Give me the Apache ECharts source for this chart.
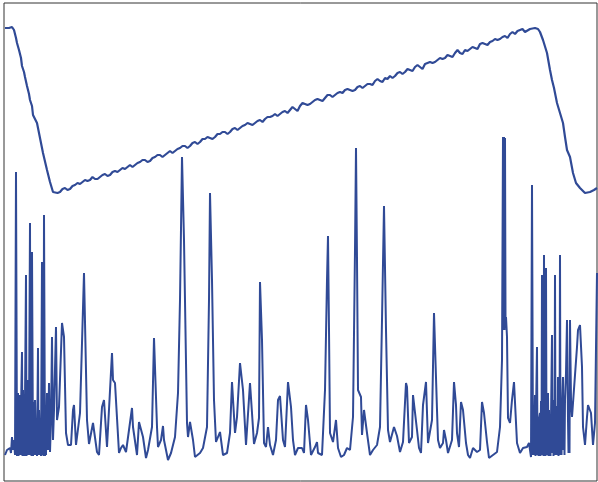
<!DOCTYPE html>
<html>
<head>
<meta charset="utf-8">
<script src="https://cdn.jsdelivr.net/npm/echarts@6/dist/echarts.min.js"></script>
<style>html,body{margin:0;padding:0;background:#fff;}#c{width:598px;height:482px;}</style>
</head>
<body>
<div id="c"></div>
<script>
// Upper sawtooth signal: [position, level]
const rampX = [5,7,9,11,12,13,14,16,17,18,19,20,21,22,23,24,25,26,27,28,29,30,31,32,33,34,35,37,40,43,47,50,53,55,
  57.5,60,62.5,65,67.5,70,72.5,75,77.5,80,82.5,85,87.5,90,92.5,95,97.5,100,102.5,105,107.5,110,112.5,115,117.5,120,122.5,125,127.5,130,132.5,135,137.5,140,142.5,145,147.5,150,152.5,155,157.5,160,162.5,165,167.5,170,172.5,175,177.5,180,182.5,185,187.5,190,192.5,195,197.5,200,202.5,205,207.5,210,212.5,215,217.5,220,222.5,225,227.5,230,232.5,235,237.5,240,242.5,245,247.5,250,252.5,255,257.5,260,262.5,265,267.5,270,272.5,275,277.5,280,282.5,285,287.5,290,292.5,295,297.5,300,302.5,305,307.5,310,312.5,315,317.5,320,322.5,325,327.5,330,332.5,335,337.5,340,342.5,345,347.5,350,352.5,355,357.5,360,362.5,365,367.5,370,372.5,375,377.5,380,382.5,385,387.5,390,392.5,395,397.5,400,402.5,405,407.5,410,412.5,415,417.5,420,422.5,425,427.5,430,432.5,435,437.5,440,442.5,445,447.5,450,452.5,455,457.5,460,462.5,465,467.5,470,472.5,475,477.5,480,482.5,485,487.5,490,492.5,495,497.5,500,502.5,505,507.5,510,512.5,515,517.5,520,522.5,525,
  527,530,532,535,538,540,543,547,550,552,554,557,560,563,565,567,570,573,576,580,585,590,594,597];
const rampY = [453,452,453,452,454,454,451,443,438,437,431,429,423,415,414,409,404,403,395,393,387,381,380,375,366,368,364,358,343,328,311,299,289,291,
  288,289,292,293,291,292,295,296,298,297,299,301,300,301,304,302,302,304,306,307,305,306,309,310,309,311,313,312,314,316,314,316,318,319,321,321,319,320,323,324,326,326,324,326,328,330,328,330,332,333,335,335,333,335,338,339,337,339,342,342,344,343,342,344,347,347,349,349,347,349,352,353,351,353,355,356,358,357,356,358,360,361,359,362,364,364,365,367,365,367,369,370,368,371,374,372,370,375,378,377,376,377,379,381,382,381,380,383,386,386,384,386,388,389,388,391,392,391,390,391,394,395,393,395,397,397,396,400,402,400,399,403,402,405,403,405,408,409,407,409,412,411,410,414,416,414,412,417,418,419,418,419,421,423,422,423,426,425,424,428,431,428,427,431,430,432,434,433,432,437,438,437,436,439,440,442,441,442,444,445,443,447,449,447,450,451,452,449,450,452,454,453,
  452,449,441,428,411,401,393,378,368,358,344,331,324,308,298,293,288,289,291,293,294,296,297,298];

// Lower spiky signal: [position, level]
const spikeX = [5,7,8,10,11,12,13,14,15,16,17,17.5,18,18.5,19,20,20.5,21,22,22.5,23,23.5,24,24.5,25,26,26.5,27,27.5,28,28.5,29,30,30.5,31,31.5,32,33,33.5,34,35,36,36.5,37,38,38.5,39,40,40.5,41,42,42.5,43,43.5,44,45,45.5,46,47,48,49,50,51,52,53,54,56,57,59,62,64,66,68,71,73,74,76,78,80,84,87,89,93,97,99,102,104,107,112,113,115,119,121,123,126,132,133,137,139,143,146,148,152,154,157,158,161,163,164,167,168,171,173,175,178,180,182,184,187,188,190,193,195,197,200,203,207,209,210,212,214,216,218,220,222,223,227,230,232,235,237,240,243,246,247,250,252,254,257,259,260,262,264,266,268,270,273,276,278,280,283,285,288,291,293,295,297,298,302,304,306,308,311,313,315,317,318,322,325,327,328,329,330,333,336,338,341,344,347,350,353,355,356,357,358,361,362,364,367,370,373,377,380,382,384,386,388,390,394,397,400,403,406,407,409,412,413,417,419,421,423,426,428,430,432,434,437,438,440,443,444,446,448,450,452,454,456,457,459,461,463,466,468,470,473,475,477,480,482,484,487,489,493,495,497,
  500,502,503,503.5,504,504.5,505,505.5,506,507,508,510,512,514,517,520,523,527,529,531,532,533,533.5,534,535,535.5,536,537,537.5,538,538.5,539,540,540.5,541,541.5,542,542.5,543,543.5,544,544.5,545,545.5,546,546.5,547,547.5,548,548.5,549,549.5,550,550.5,551,552,552.5,553,553.5,554,554.5,555,555.5,556,556.5,557,557.5,558,558.5,559,559.5,560,560.5,561,561.5,562,563,563.5,564,564.5,565,566,567,568,568.5,569,569.5,570,571,572,574,577,578,580,582,583,585,587,588,591,593,595,597];
const spikeY = [26,31,29,33,28,44,31,41,26,309,25,71,88,25,61,86,26,71,129,25,91,26,61,25,81,206,25,71,26,101,26,61,258,26,51,25,229,25,79,26,81,26,61,25,133,26,71,26,51,25,219,26,61,25,266,25,41,26,88,31,98,29,61,144,41,71,154,61,74,158,144,48,36,36,71,76,36,34,68,208,61,37,58,29,26,74,81,34,128,101,98,28,33,36,29,73,54,26,59,44,23,31,54,143,54,34,41,55,41,26,21,28,28,44,88,181,324,241,58,44,59,41,24,26,28,33,54,181,288,201,81,39,38,49,48,26,28,48,99,48,64,118,91,36,34,98,68,37,48,63,199,141,38,34,54,36,26,41,81,85,41,34,99,74,41,26,26,33,33,28,76,61,26,24,34,39,28,26,91,201,245,151,48,39,61,33,24,26,33,31,64,231,333,221,91,84,46,71,48,26,31,36,54,161,275,151,51,39,54,45,29,39,98,94,38,44,86,51,33,28,76,99,38,36,61,168,71,41,33,38,51,41,28,28,41,99,76,48,34,79,71,38,26,23,33,33,29,31,79,68,39,23,26,28,29,
  54,121,344,151,344,151,343,161,164,144,63,58,81,99,38,28,33,34,38,24,296,26,70,26,86,25,68,134,26,60,25,61,68,25,80,26,206,31,81,25,226,27,60,25,213,30,75,26,88,25,71,26,65,25,61,146,28,70,25,81,26,206,27,51,26,75,28,104,25,70,26,226,28,60,26,71,104,31,70,26,81,108,161,61,28,60,28,161,81,64,64,134,151,156,114,54,36,64,76,68,36,58,208];

const ramp = rampX.map((x, i) => [x, rampY[i]]);
const spikes = spikeX.map((x, i) => [x, spikeY[i]]);

const color = '#304a96';
const chart = echarts.init(document.getElementById('c'), null, {renderer: 'canvas'});
chart.setOption({
  animation: false,
  grid: {left: 4, top: 3, right: 1, bottom: 1, show: true, borderColor: '#333', borderWidth: 1, backgroundColor: '#fff'},
  xAxis: {type: 'value', min: 4, max: 597, show: false},
  yAxis: {type: 'value', min: 0, max: 478, show: false},
  series: [
    {type: 'line', data: ramp, showSymbol: false, symbol: 'none', lineStyle: {color: color, width: 2.2}, clip: true},
    {type: 'line', data: spikes, showSymbol: false, symbol: 'none', lineStyle: {color: color, width: 2}, clip: true}
  ]
});
</script>
</body>
</html>
